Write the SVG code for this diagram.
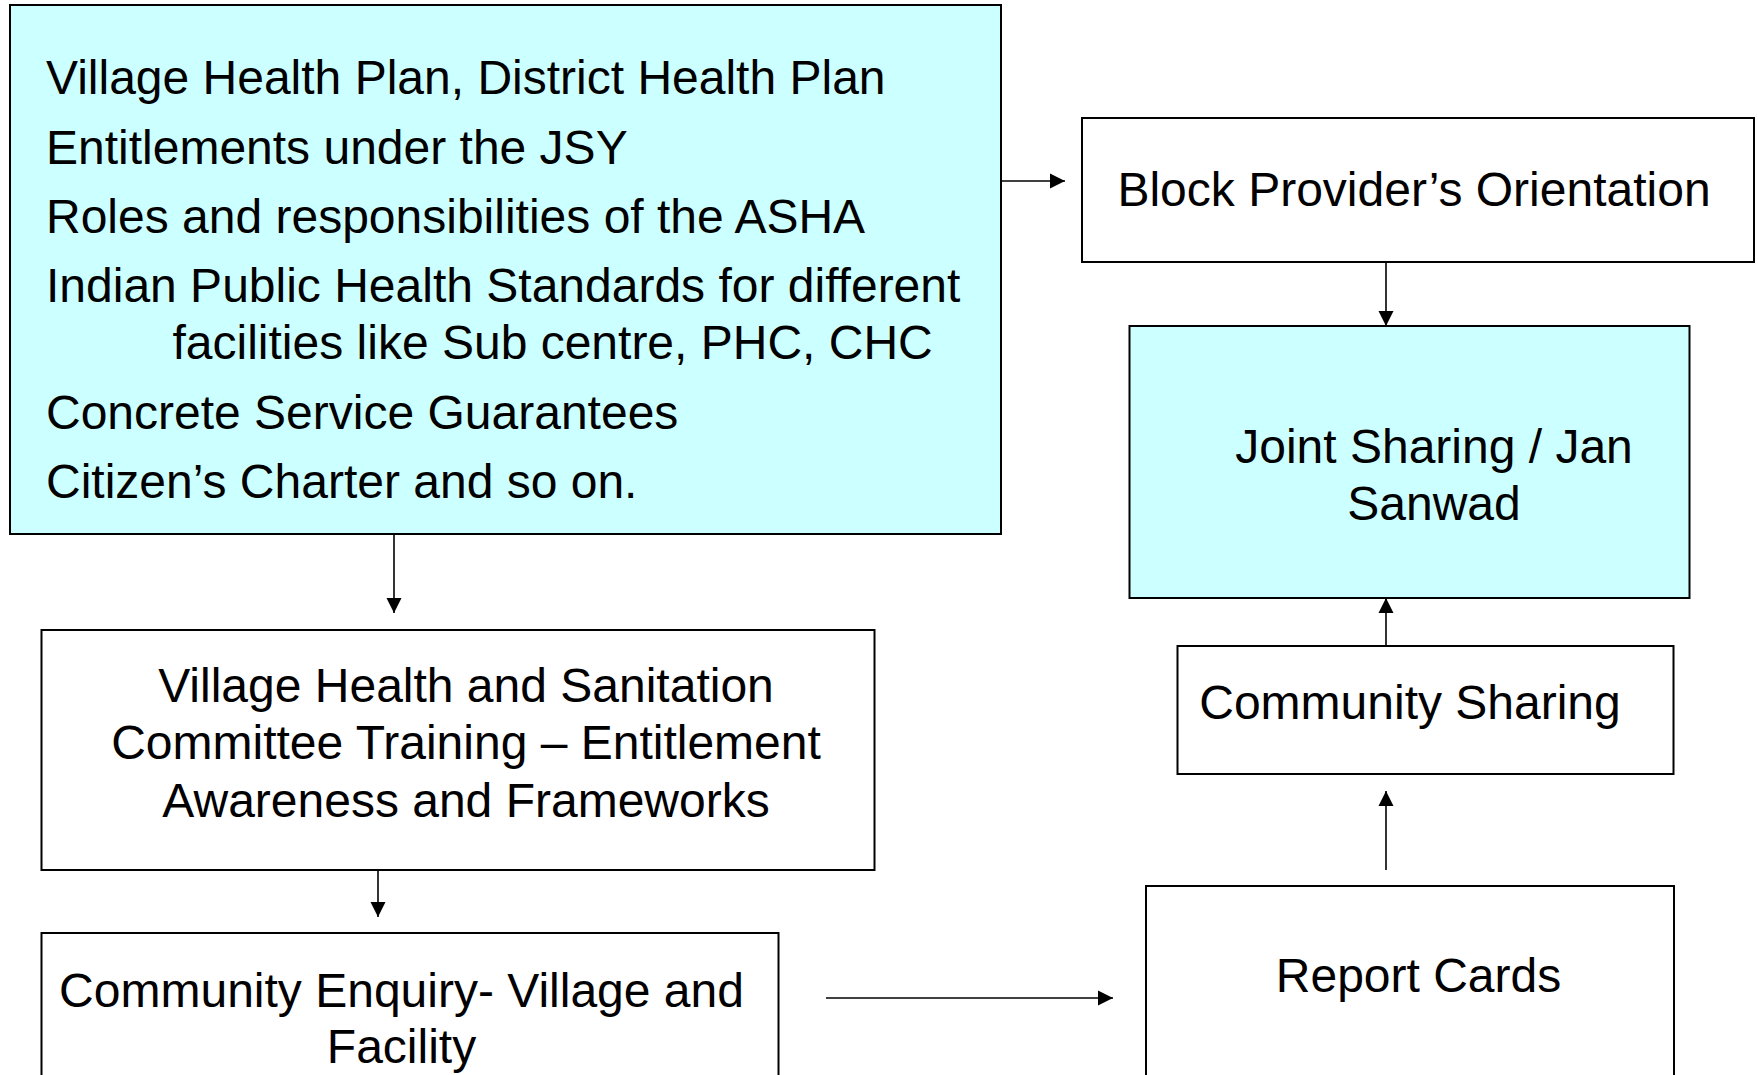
<svg xmlns="http://www.w3.org/2000/svg" width="1758" height="1075" viewBox="0 0 1758 1075">
<style>
  .box { stroke: #000; stroke-width: 2; }
  .cyan { fill: #CCFFFF; }
  .white { fill: #FFFFFF; }
  .t { font-family: "Liberation Sans", Arial, sans-serif; font-size: 48px; fill: #000; }
  .c { text-anchor: middle; }
  .conn { stroke: #000; stroke-width: 1.6; fill: none; marker-end: url(#arr); }
</style>
<defs>
  <marker id="arr" markerUnits="userSpaceOnUse" markerWidth="16" markerHeight="16" refX="15" refY="8" orient="auto">
    <path d="M0,0.5 L15,8 L0,15.5 z" fill="#000"/>
  </marker>
</defs>
<rect width="1758" height="1075" fill="#FFFFFF"/>

<g id="node-topics">
  <rect class="box cyan" x="10" y="5" width="991" height="529"/>
  <text class="t" x="46" y="94">Village Health Plan, District Health Plan</text>
  <text class="t" x="46" y="163.5">Entitlements under the JSY</text>
  <text class="t" x="46" y="232.5">Roles and responsibilities of the ASHA</text>
  <text class="t" x="46" y="301.5">Indian Public Health Standards for different</text>
  <text class="t" x="172.5" y="359">facilities like Sub centre, PHC, CHC</text>
  <text class="t" x="46" y="428.5">Concrete Service Guarantees</text>
  <text class="t" x="46" y="498">Citizen’s Charter and so on.</text>
</g>

<g id="node-block">
  <rect class="box white" x="1082" y="118" width="672" height="144"/>
  <text class="t c" x="1414" y="206">Block Provider’s Orientation</text>
</g>

<g id="node-joint">
  <rect class="box cyan" x="1129.5" y="326" width="560" height="272"/>
  <text class="t c" x="1434" y="462.5">Joint Sharing / Jan</text>
  <text class="t c" x="1434" y="520">Sanwad</text>
</g>

<g id="node-community-sharing">
  <rect class="box white" x="1177.5" y="646" width="496" height="128"/>
  <text class="t c" x="1410" y="718.5">Community Sharing</text>
</g>

<g id="node-report-cards">
  <rect class="box white" x="1146" y="886" width="528" height="200"/>
  <text class="t c" x="1418.5" y="991.5">Report Cards</text>
</g>

<g id="node-vhsc">
  <rect class="box white" x="41.5" y="630" width="833" height="240"/>
  <text class="t c" x="466" y="701.5">Village Health and Sanitation</text>
  <text class="t c" x="466" y="759">Committee Training – Entitlement</text>
  <text class="t c" x="466" y="816.5">Awareness and Frameworks</text>
</g>

<g id="node-enquiry">
  <rect class="box white" x="41.5" y="933" width="737" height="150"/>
  <text class="t c" x="401.5" y="1006.5">Community Enquiry- Village and</text>
  <text class="t c" x="401.5" y="1063">Facility</text>
</g>

<g id="connectors">
  <path class="conn" d="M1001,181 H1065"/>
  <path class="conn" d="M1386,262 V326"/>
  <path class="conn" d="M1386,646 V598"/>
  <path class="conn" d="M1386,870 V791"/>
  <path class="conn" d="M394,534 V613"/>
  <path class="conn" d="M378,870 V917"/>
  <path class="conn" d="M826,998 H1113"/>
</g>
</svg>
